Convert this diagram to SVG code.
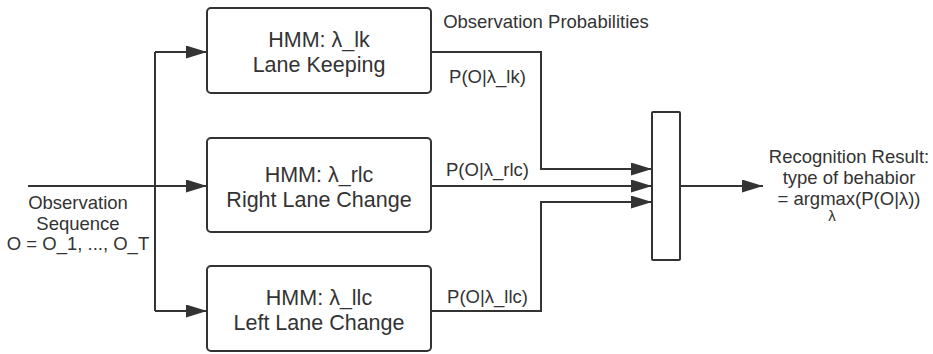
<svg xmlns="http://www.w3.org/2000/svg" width="933" height="354" viewBox="0 0 933 354">
  <style>
    .box { fill: #ffffff; stroke: #333333; stroke-width: 2; }
    .wire { fill: none; stroke: #333333; stroke-width: 2; }
    .label { font-family: "Liberation Sans", Arial, sans-serif; fill: #333333; text-anchor: middle; }
    .title { font-size: 21.5px; }
    .small { font-size: 18.5px; }
  </style>
  <defs>
    <marker id="arrow" markerUnits="userSpaceOnUse" markerWidth="21" markerHeight="13" refX="21" refY="6.5" orient="auto">
      <path d="M0,0 L21,6.5 L0,13 z" fill="#333333"/>
    </marker>
  </defs>

  <rect width="933" height="354" fill="#ffffff"/>

  <!-- connectors -->
  <g id="connectors">
    <!-- observation sequence fan-out -->
    <path class="wire" d="M28,186 H207" marker-end="url(#arrow)"/>
    <path class="wire" d="M155,52 V311"/>
    <path class="wire" d="M155,52 H207" marker-end="url(#arrow)"/>
    <path class="wire" d="M155,311 H207" marker-end="url(#arrow)"/>
    <!-- model likelihoods into selector -->
    <path class="wire" d="M431,52 H541 V169 H652" marker-end="url(#arrow)"/>
    <path class="wire" d="M431,186 H652" marker-end="url(#arrow)"/>
    <path class="wire" d="M431,311 H541 V202 H652" marker-end="url(#arrow)"/>
    <!-- result -->
    <path class="wire" d="M680,186 H763" marker-end="url(#arrow)"/>
  </g>

  <!-- input label -->
  <g id="input-label">
    <text class="label small" x="78" y="209">Observation</text>
    <text class="label small" x="78" y="230">Sequence</text>
    <text class="label small" x="78" y="250">O = O_1, ..., O_T</text>
  </g>

  <g id="hmm-lk">
    <rect class="box" x="207" y="8" width="224" height="85" rx="4"/>
    <text class="label title" x="319" y="47">HMM: λ_lk</text>
    <text class="label title" x="319" y="72">Lane Keeping</text>
  </g>

  <g id="hmm-rlc">
    <rect class="box" x="207" y="138" width="224" height="94" rx="4"/>
    <text class="label title" x="319" y="182">HMM: λ_rlc</text>
    <text class="label title" x="319" y="207">Right Lane Change</text>
  </g>

  <g id="hmm-llc">
    <rect class="box" x="207" y="266" width="224" height="85" rx="4"/>
    <text class="label title" x="319" y="305">HMM: λ_llc</text>
    <text class="label title" x="319" y="330">Left Lane Change</text>
  </g>

  <!-- edge labels -->
  <g id="edge-labels">
    <text class="label small" x="546" y="28">Observation Probabilities</text>
    <text class="label small" x="487.5" y="83">P(O|λ_lk)</text>
    <text class="label small" x="487.5" y="176">P(O|λ_rlc)</text>
    <text class="label small" x="487.5" y="303">P(O|λ_llc)</text>
  </g>

  <g id="selector">
    <rect class="box" x="652" y="112" width="28" height="148" rx="1"/>
  </g>

  <g id="result">
    <text class="label small" x="849" y="163">Recognition Result:</text>
    <text class="label small" x="849" y="184">type of behabior</text>
    <text class="label small" x="849" y="205">= argmax(P(O|λ))</text>
    <text class="label" x="832" y="221" font-size="15">λ</text>
  </g>
</svg>
